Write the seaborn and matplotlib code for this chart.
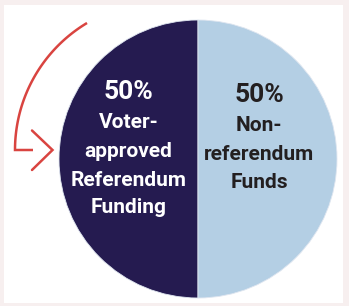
import numpy as np
import matplotlib.pyplot as plt
import matplotlib.patches as mpatches
import seaborn as sns

# --- data ---
shares = [50, 50]
pct_labels = ['50%', '50%']
category_lines = [
    ['Voter-', 'approved', 'Referendum', 'Funding'],
    ['Non-', 'referendum', 'Funds'],
]
slice_colors = ['#251b50', '#b4cfe4']
text_colors = ['#ffffff', '#231f20']

sns.set_style('white')
plt.rcParams['font.family'] = ['Roboto', 'DejaVu Sans']

W, H = 349, 306
fig = plt.figure(figsize=(W / 100, H / 100), dpi=100, facecolor='#f7efef')
ax = fig.add_axes([0, 0, 1, 1])

# white card
ax.add_patch(mpatches.Rectangle((4, 5), 339, 298, facecolor='white', edgecolor='none', zorder=0))

# pie
cx, cy, r = 198, 159, 139
ax.pie(shares, colors=slice_colors, startangle=90, counterclock=True,
       center=(cx, cy), radius=r, frame=True,
       wedgeprops=dict(edgecolor='#dfe6f0', linewidth=0.6))
ax.set_xlim(0, W)
ax.set_ylim(H, 0)
ax.set_aspect('equal')
ax.axis('off')

# labels
label_x = [128.5, 259]
pct_base = [99, 102]
line_base = [[128, 157, 186, 213], [131, 160, 188]]
for i in range(2):
    ax.text(label_x[i], pct_base[i], pct_labels[i], color=text_colors[i],
            fontsize=19, fontweight='bold', ha='center', va='baseline')
    for line, yb in zip(category_lines[i], line_base[i]):
        ax.text(label_x[i], yb, line, color=text_colors[i],
                fontsize=15, fontweight='bold', ha='center', va='baseline')

# red curved arrow
red = '#d94440'
acx, acy, ar = 163, 150, 148
a0 = np.arctan2(acy - 23, 87 - acx)
th = np.linspace(a0, np.pi, 80)
px = np.append(acx + ar * np.cos(th), 33)
py = np.append(acy - ar * np.sin(th), 150)
ax.plot(px, py, color=red, lw=1.8, solid_capstyle='butt', solid_joinstyle='miter')
ax.plot([32, 52.5, 32], [130.5, 150, 170], color=red, lw=1.8, solid_joinstyle='miter')

fig.savefig('out.png', dpi=100, facecolor=fig.get_facecolor())
